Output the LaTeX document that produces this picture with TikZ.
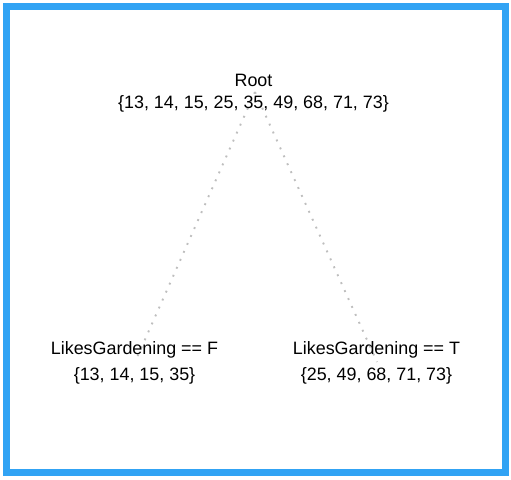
\documentclass[tikz,border=0pt]{standalone}
\usepackage{fontspec}
\setmainfont{Liberation Sans}
\definecolor{frameblue}{HTML}{31A3F4}
\definecolor{edgegray}{HTML}{BEBEBE}
\begin{document}
\begin{tikzpicture}[x=1pt,y=-1pt,
  leaf/.style={align=center,font=\fontsize{17.9}{22}\selectfont},
  branch/.style={draw=edgegray,line width=1.9pt,dash pattern=on 1.9pt off 6.8pt}]
\useasboundingbox (0,0) rectangle (511,479);
\draw[frameblue,line width=7pt] (6.5,6.5) rectangle (505.5,472.5); % frame
\coordinate (rootc) at (255,92);
\coordinate (leftc) at (135,362);
\coordinate (rightc) at (377,362);
\draw[branch] (rootc) -- (leftc);
\draw[branch] (rootc) -- (rightc);
\node[leaf] (root) at (253.5,93) {Root\\\{13, 14, 15, 25, 35, 49, 68, 71, 73\}};
\node[leaf] (left) at (134.5,362.5) {LikesGardening == F\\[4pt]\{13, 14, 15, 35\}};
\node[leaf] (right) at (376.5,362.5) {LikesGardening == T\\[4pt]\{25, 49, 68, 71, 73\}};
\end{tikzpicture}
\end{document}
